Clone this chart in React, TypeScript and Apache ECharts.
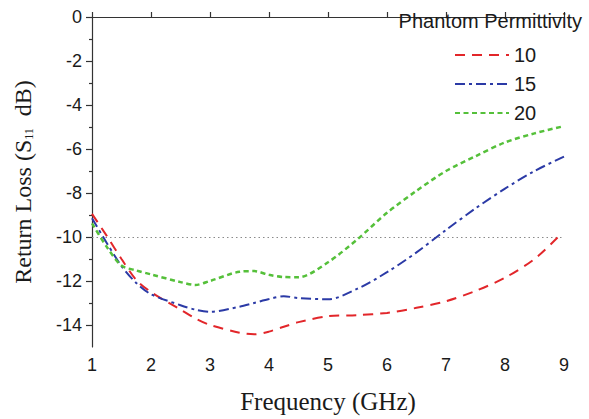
import React, { useEffect, useRef } from "react";
import * as echarts from "echarts";

// Frequency sweep (GHz) and measured S11 (dB) for each phantom permittivity
const freq = [1, 1.25, 1.5, 1.75, 2, 2.5, 2.75, 3, 3.5, 3.75, 4, 4.25, 4.5, 5, 5.5, 6, 6.5, 7, 7.5, 8, 8.5, 9];
const freqEps10 = [1, 1.25, 1.5, 1.75, 2, 2.5, 2.75, 3, 3.5, 3.75, 4, 4.25, 4.5, 5, 5.5, 6, 6.5, 7, 7.5, 8, 8.5, 8.9];
const s11Eps10 = [-8.95, -9.95, -11.0, -11.95, -12.5, -13.3, -13.7, -14.0, -14.35, -14.42, -14.3, -14.08, -13.87, -13.6, -13.55, -13.45, -13.22, -12.92, -12.45, -11.85, -11.0, -10.0];
const s11Eps15 = [-9.15, -10.27, -11.32, -12.09, -12.6, -13.1, -13.3, -13.4, -13.17, -13.0, -12.82, -12.69, -12.78, -12.83, -12.35, -11.6, -10.7, -9.68, -8.7, -7.8, -7.0, -6.35];
const s11Eps20 = [-9.38, -10.45, -11.3, -11.52, -11.7, -12.05, -12.18, -12.0, -11.58, -11.55, -11.72, -11.82, -11.83, -11.15, -10.1, -8.9, -7.9, -7.0, -6.33, -5.7, -5.29, -4.96];

const seriesNames = ["10", "15", "20"];
const yTicks = [0, -2, -4, -6, -8, -10, -12, -14];
const yMinorTicks = [-1, -3, -5, -7, -9, -11, -13];
const threshold = -10;

const SANS = "'Liberation Sans', Arial, sans-serif";
const SERIF = "'Liberation Serif', 'Times New Roman', serif";
const INK = "#1a1a1a";
const AXIS = "#333333";

function pairs(xs: number[], ys: number[]) {
  return xs.map((x, i) => [x, ys[i]]);
}

export default function App() {
  const ref = useRef<HTMLDivElement>(null);

  useEffect(() => {
    if (!ref.current) return;
    const chart = echarts.init(ref.current, undefined, { renderer: "svg" });

    const option = {
      animation: false,
      backgroundColor: "#ffffff",
      title: {
        text: "Phantom Permittivity",
        right: 2,
        top: 6,
        textStyle: { fontFamily: SANS, fontSize: 20, fontWeight: "normal", color: INK },
      },
      legend: {
        orient: "vertical",
        left: 449,
        top: 40,
        itemWidth: 54,
        itemHeight: 14,
        itemGap: 9,
        data: seriesNames,
        itemStyle: { opacity: 0 },
        textStyle: { fontFamily: SANS, fontSize: 20, color: INK, lineHeight: 20 },
      },
      grid: { left: 92, right: 25, top: 17, bottom: 72, containLabel: false, outerBoundsMode: "none" },
      xAxis: {
        type: "value",
        min: 1,
        max: 9,
        interval: 1,
        name: "Frequency (GHz)",
        nameLocation: "middle",
        nameGap: 42,
        nameTextStyle: { fontFamily: SERIF, fontSize: 25, color: INK },
        axisLine: { lineStyle: { color: AXIS, width: 1.2 } },
        axisTick: { inside: true, length: 5, lineStyle: { color: AXIS, width: 1.2 } },
        axisLabel: { fontFamily: SANS, fontSize: 18, color: INK, margin: 9 },
        splitLine: { show: false },
      },
      yAxis: [
        {
          type: "value",
          min: -15,
          max: 0,
          name: "Return Loss (S{sub|11}  dB)",
          nameLocation: "middle",
          nameGap: 57,
          nameTextStyle: {
            fontFamily: SERIF,
            fontSize: 24,
            color: INK,
            rich: {
              sub: { fontFamily: SERIF, fontSize: 12, color: INK, verticalAlign: "bottom", padding: [10, 0, 0, 0] },
            },
          },
          axisLine: { show: true, lineStyle: { color: AXIS, width: 1.2 } },
          axisTick: { show: true, customValues: yTicks, length: 6, lineStyle: { color: AXIS, width: 1.2 } },
          axisLabel: { customValues: yTicks, fontFamily: SANS, fontSize: 18, color: INK, margin: 10 },
          splitLine: { show: false },
        },
        {
          type: "value",
          min: -15,
          max: 0,
          position: "left",
          axisLine: { show: false },
          axisTick: { show: true, customValues: yMinorTicks, length: 3, lineStyle: { color: AXIS, width: 1.2 } },
          axisLabel: { show: false },
          splitLine: { show: false },
        },
      ],
      series: [
        {
          name: seriesNames[0],
          type: "line",
          smooth: 0.3,
          symbol: "none",
          data: pairs(freqEps10, s11Eps10),
          lineStyle: { color: "#e2262a", width: 2, type: [10, 7] },
          itemStyle: { color: "#e2262a" },
          markLine: {
            silent: true,
            symbol: "none",
            z: 1,
            label: { show: false },
            lineStyle: { color: "#8a8a8a", width: 1, type: [1.5, 3] },
            data: [{ yAxis: threshold }],
          },
        },
        {
          name: seriesNames[1],
          type: "line",
          smooth: 0.3,
          symbol: "none",
          data: pairs(freq, s11Eps15),
          lineStyle: { color: "#2b3aa6", width: 2, type: [10, 4, 3, 4] },
          itemStyle: { color: "#2b3aa6" },
        },
        {
          name: seriesNames[2],
          type: "line",
          smooth: 0.3,
          symbol: "none",
          data: pairs(freq, s11Eps20),
          lineStyle: { color: "#55c03a", width: 2.5, type: [5, 3.5] },
          itemStyle: { color: "#55c03a" },
        },
      ],
    };

    chart.setOption(option as any);
    return () => chart.dispose();
  }, []);

  return <div ref={ref} style={{ width: 589, height: 419, position: "absolute", left: 0, top: 0 }} />;
}
